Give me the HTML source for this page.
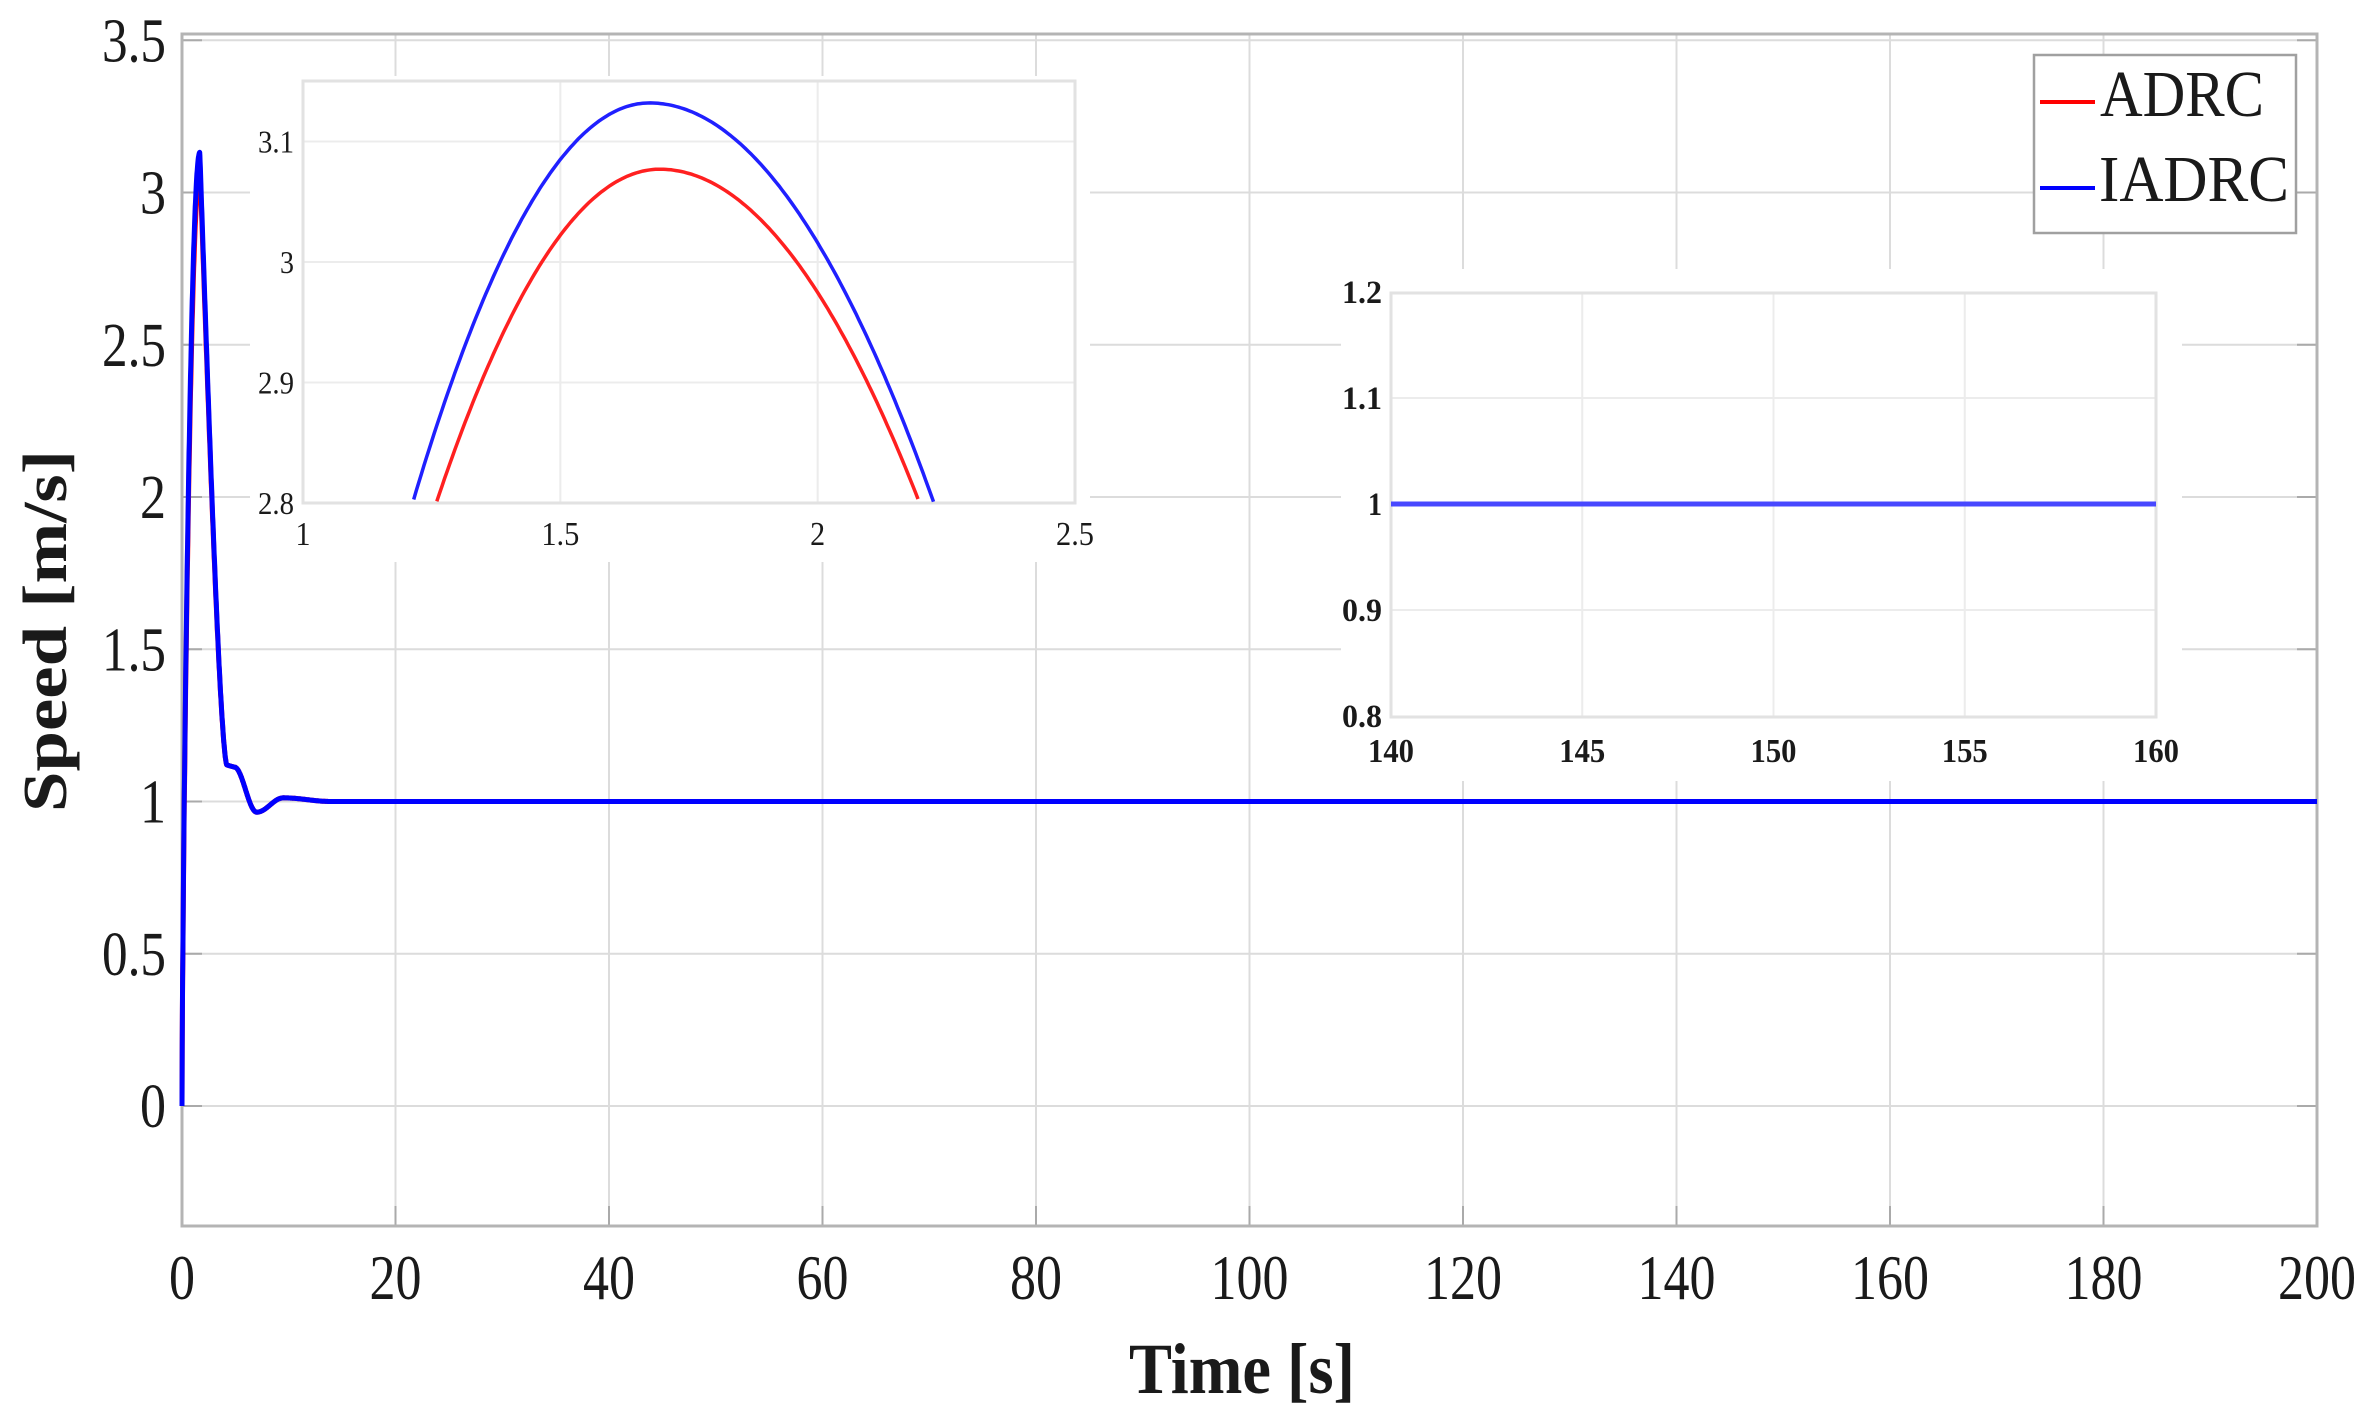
<!DOCTYPE html>
<html><head><meta charset="utf-8"><style>
html,body{margin:0;padding:0;background:#fff;}
svg{display:block;}
text{font-family:"Liberation Serif",serif;fill:#1a1a1a;}
</style></head><body>
<svg id="s" width="2370" height="1415" viewBox="0 0 2370 1415" xmlns="http://www.w3.org/2000/svg">
<rect width="2370" height="1415" fill="#fff"/>
<g id="g"></g>
</svg>
<script>
const NS="http://www.w3.org/2000/svg",g=document.getElementById('g');
function el(t,a,txt){const e=document.createElementNS(NS,t);for(const k in a)e.setAttribute(k,a[k]);if(txt!==undefined)e.textContent=txt;g.appendChild(e);return e;}
// main axes
const L=182,R=2317,T=34,B=1226;
const X=t=>L+(R-L)*t/200, Y=v=>1106-304.5*v;
for(let i=1;i<10;i++){el('line',{x1:X(i*20),x2:X(i*20),y1:T,y2:B,stroke:'#dcdcdc','stroke-width':2});}
for(let i=0;i<=7;i++){const y=Y(i*0.5);el('line',{x1:L,x2:R,y1:y,y2:y,stroke:'#dcdcdc','stroke-width':2});}
// ticks
for(let i=0;i<=10;i++){el('line',{x1:X(i*20),x2:X(i*20),y1:B,y2:B-20,stroke:'#aaa','stroke-width':2});}
for(let i=0;i<=7;i++){const y=Y(i*0.5);el('line',{x1:L,x2:L+20,y1:y,y2:y,stroke:'#aaa','stroke-width':2});el('line',{x1:R,x2:R-20,y1:y,y2:y,stroke:'#aaa','stroke-width':2});}
el('rect',{x:L,y:T,width:R-L,height:B-T,fill:'none',stroke:'#b4b4b4','stroke-width':3});
// main tick labels
const yl=['0','0.5','1','1.5','2','2.5','3','3.5'];
yl.forEach((s,i)=>{el('text',{x:166,y:Y(i*0.5)+21,'font-size':62,'text-anchor':'end',textLength:s.length==1?26:64,lengthAdjust:'spacingAndGlyphs'},s);});
for(let i=0;i<=10;i++){const s=String(i*20);el('text',{x:X(i*20),y:1299,'font-size':64,'text-anchor':'middle',textLength:s.length*26,lengthAdjust:'spacingAndGlyphs'},s);}
el('text',{x:1242,y:1393,'font-size':72,'font-weight':'bold','text-anchor':'middle',textLength:226,lengthAdjust:'spacingAndGlyphs'},'Time [s]');
el('text',{x:0,y:0,'font-size':62,'font-weight':'bold','text-anchor':'middle',transform:'translate(66,631) rotate(-90)',textLength:362,lengthAdjust:'spacingAndGlyphs'},'Speed [m/s]');
// main curve
function f(t,red){
  if(t<=0)return 0;
  const tp=red?1.69:1.67, pk=red?3.077:3.132;
  if(t<tp){const u=t/tp;return pk*Math.sin(u*Math.PI/2)**0.7;}
  if(t<4.2){const u=(t-tp)/(4.2-tp);return 1.12+(pk-1.12)*(1-u)**1.6*(1+0.3*u);}
  if(t<4.9)return 1.12-0.01*(t-4.2);
  if(t<7){const u=(t-4.9)/2.1;return 1.113-(1.113-0.965)*(0.5-0.5*Math.cos(u*Math.PI));}
  if(t<9.5){const u=(t-7)/2.5;return 0.965+(1.012-0.965)*(0.5-0.5*Math.cos(u*Math.PI));}
  if(t<14){const u=(t-9.5)/4.5;return 1.012-0.012*(0.5-0.5*Math.cos(u*Math.PI));}
  return 1;
}
function path(red){let d='M'+X(0)+' '+Y(0);for(let t=0.02;t<=15;t+=0.02)d+=' L'+X(t).toFixed(1)+' '+Y(f(t,red)).toFixed(1);d+=' L'+X(200)+' '+Y(1);return d;}
el('path',{d:path(true),fill:'none',stroke:'#ff0000','stroke-width':5,'stroke-linejoin':'round'});
el('path',{d:path(false),fill:'none',stroke:'#0000ff','stroke-width':5,'stroke-linejoin':'round'});

// inset 1
el('rect',{x:250,y:76,width:840,height:486,fill:'#fff'});
const iL=303,iR=1075,iT=81,iB=503;
const ix=t=>iL+(t-1)*(iR-iL)/1.5, iy=v=>503-(v-2.8)*1205;
[1.5,2].forEach(t=>el('line',{x1:ix(t),x2:ix(t),y1:iT,y2:iB,stroke:'#ececec','stroke-width':2}));
[2.9,3,3.1].forEach(v=>el('line',{x1:iL,x2:iR,y1:iy(v),y2:iy(v),stroke:'#ececec','stroke-width':2}));
el('rect',{x:iL,y:iT,width:iR-iL,height:iB-iT,fill:'none',stroke:'#e2e2e2','stroke-width':3});
[['2.8',2.8],['2.9',2.9],['3',3],['3.1',3.1]].forEach(([s,v])=>el('text',{x:294,y:iy(v)+11,'font-size':32,'text-anchor':'end',textLength:s.length==1?14:36,lengthAdjust:'spacingAndGlyphs'},s));
[['1',1],['1.5',1.5],['2',2],['2.5',2.5]].forEach(([s,t])=>el('text',{x:ix(t),y:545,'font-size':34,'text-anchor':'middle',textLength:s.length==1?15:38,lengthAdjust:'spacingAndGlyphs'},s));
function par(p,pk,al,ar,col){let d='';let first=true;for(let t=1;t<=2.5;t+=0.005){const a=t<p?al:ar;const v=pk-a*(t-p)**2;if(v<2.8)continue;d+=(first?'M':' L')+ix(t).toFixed(1)+' '+iy(v).toFixed(1);first=false;}
el('path',{d:d,fill:'none',stroke:col,'stroke-width':3.5});}
par(1.693,3.077,1.47,1.086,'#ff2020');
par(1.673,3.132,1.569,1.086,'#2020ff');

// inset 2
el('rect',{x:1341,y:269,width:841,height:512,fill:'#fff'});
const jL=1391,jR=2156,jT=293,jB=717;
const jx=t=>jL+(t-140)*(jR-jL)/20, jy=v=>504-(v-1)*1060;
[145,150,155].forEach(t=>el('line',{x1:jx(t),x2:jx(t),y1:jT,y2:jB,stroke:'#ececec','stroke-width':2}));
[0.9,1.1].forEach(v=>el('line',{x1:jL,x2:jR,y1:jy(v),y2:jy(v),stroke:'#ececec','stroke-width':2}));
el('rect',{x:jL,y:jT,width:jR-jL,height:jB-jT,fill:'none',stroke:'#e2e2e2','stroke-width':3});
[['0.8',0.8],['0.9',0.9],['1',1],['1.1',1.1],['1.2',1.2]].forEach(([s,v])=>el('text',{x:1382,y:jy(v)+11,'font-size':33,'font-weight':'bold','text-anchor':'end',textLength:s.length==1?14:40,lengthAdjust:'spacingAndGlyphs'},s));
[140,145,150,155,160].forEach(t=>el('text',{x:jx(t),y:762,'font-size':34,'font-weight':'bold','text-anchor':'middle',textLength:46,lengthAdjust:'spacingAndGlyphs'},String(t)));
el('line',{x1:jL,x2:jR,y1:504,y2:504,stroke:'#4848ff','stroke-width':5});

// legend
el('rect',{x:2034,y:55,width:262,height:178,fill:'#fff',stroke:'#a0a0a0','stroke-width':2.5});
el('line',{x1:2040,x2:2095,y1:102,y2:102,stroke:'#ff0000','stroke-width':4});
el('line',{x1:2040,x2:2095,y1:188,y2:188,stroke:'#0000ff','stroke-width':4});
el('text',{x:2100,y:116,'font-size':66,textLength:164,lengthAdjust:'spacingAndGlyphs'},'ADRC');
el('text',{x:2099,y:201,'font-size':66,textLength:190,lengthAdjust:'spacingAndGlyphs'},'IADRC');
</script>
</body></html>
